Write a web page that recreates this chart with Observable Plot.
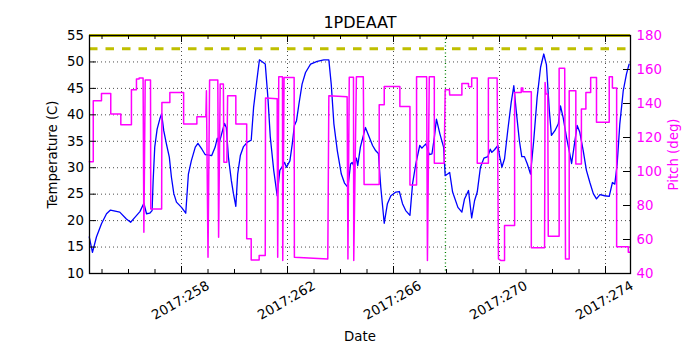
<!DOCTYPE html>
<html>
<head>
<meta charset="utf-8">
<script src="https://cdn.jsdelivr.net/npm/d3@7"></script>
<script src="https://cdn.jsdelivr.net/npm/@observablehq/plot@0.6"></script>
<style>
  html, body { margin: 0; padding: 0; background: white; }
</style>
</head>
<body>
<div id="chart"></div>
<script>
// ---- Data (day of year 2017) ----
const title = "1PDEAAT";
const tempDays = [254.52,254.64,254.79,254.98,255.17,255.32,255.67,255.92,256.08,256.24,256.43,256.58,256.68,256.80,256.89,256.93,256.99,257.08,257.18,257.25,257.33,257.43,257.54,257.62,257.71,257.81,258.00,258.16,258.26,258.37,258.52,258.62,258.77,258.89,259.14,259.27,259.35,259.42,259.62,259.69,259.77,259.88,259.96,260.05,260.12,260.22,260.34,260.50,260.63,260.72,260.84,260.94,261.16,261.26,261.35,261.48,261.61,261.71,261.80,261.89,261.96,262.09,262.18,262.26,262.34,262.43,262.55,262.68,262.87,263.12,263.37,263.56,263.65,263.75,263.88,264.03,264.15,264.28,264.38,264.44,264.50,264.60,264.65,264.75,264.94,265.06,265.21,265.33,265.43,265.52,265.65,265.77,265.90,266.09,266.22,266.34,266.46,266.62,266.72,266.84,266.99,267.07,267.22,267.35,267.45,267.54,267.62,267.75,267.89,267.95,268.04,268.12,268.23,268.43,268.58,268.68,268.83,268.95,269.06,269.16,269.28,269.41,269.56,269.65,269.71,269.81,269.94,270.00,270.09,270.19,270.31,270.44,270.54,270.63,270.75,270.84,270.94,271.05,271.17,271.29,271.42,271.55,271.67,271.77,271.88,271.96,272.09,272.22,272.30,272.40,272.53,272.63,272.72,272.80,272.93,273.03,273.16,273.28,273.41,273.54,273.66,273.79,273.97,274.14,274.26,274.35,274.44,274.54,274.67,274.79,274.89];
const tempValues = [16.9,14.0,16.9,19.4,21.3,22.0,21.6,20.3,19.7,20.6,21.7,23.3,21.3,21.4,21.9,27.6,33.9,37.3,39.2,40.2,37.0,34.5,32.0,28.2,25.1,23.5,22.5,21.4,28.8,31.3,33.9,34.6,33.5,32.5,32.3,33.9,35.6,34.6,38.4,37.6,32.0,27.6,25.1,22.7,28.8,32.3,34.0,34.9,35.2,41.4,46.4,50.4,49.6,43.3,35.8,29.5,24.7,29.5,30.2,31.0,30.1,31.3,34.5,38.0,38.9,42.0,45.8,48.0,49.6,50.1,50.4,50.4,45.8,38.3,33.2,28.8,27.1,26.3,30.7,31.0,30.4,31.8,30.4,33.9,37.6,36.1,34.2,33.2,32.7,26.3,19.5,23.2,24.7,25.4,25.5,23.2,21.9,21.0,27.0,30.7,34.2,33.7,34.5,32.5,32.6,35.7,39.2,36.4,33.9,28.5,28.8,29.1,25.4,22.5,21.6,24.1,25.7,20.5,23.8,25.4,30.1,31.8,32.1,33.5,32.9,33.4,34.2,32.3,30.1,31.7,37.0,42.3,45.5,40.8,35.1,32.1,32.1,30.7,28.8,35.1,43.3,49.0,51.5,49.5,40.8,36.1,37.0,38.3,41.7,39.5,35.7,33.2,30.8,33.5,38.0,36.7,33.2,29.5,27.2,25.1,24.1,24.9,24.7,24.6,27.2,26.9,30.7,38.3,44.6,47.7,49.6];

const pitchDays = [254.52,254.67,254.67,254.98,254.98,255.33,255.33,255.71,255.71,256.11,256.11,256.30,256.30,256.40,256.40,256.55,256.58,256.63,256.83,256.84,257.25,257.26,257.56,257.56,258.08,258.08,258.58,258.58,258.92,258.94,259.00,259.06,259.37,259.40,259.46,259.58,259.60,259.71,259.74,260.05,260.05,260.46,260.46,260.63,260.63,260.93,260.93,261.16,261.17,261.61,261.63,261.67,261.81,261.82,261.87,262.25,262.26,263.52,263.56,264.25,264.28,264.33,264.49,264.50,264.60,264.86,264.89,265.46,265.46,265.65,265.65,266.24,266.24,266.62,266.62,266.87,266.87,267.25,267.28,267.35,267.54,267.54,267.91,267.95,268.11,268.12,268.58,268.58,268.83,268.83,268.95,268.95,269.16,269.16,269.58,269.58,269.91,269.96,270.06,270.19,270.19,270.57,270.57,270.82,270.82,270.88,270.88,271.20,271.20,271.70,271.72,271.75,271.82,271.84,272.25,272.25,272.46,272.49,272.63,272.63,272.88,272.88,273.09,273.09,273.26,273.26,273.44,273.44,273.66,273.66,274.14,274.14,274.26,274.26,274.42,274.42,274.86,274.86,274.92];
const pitchValues = [105.8,105.8,141.6,141.6,145.9,145.9,133.8,133.8,127.5,127.5,148.1,148.1,154.4,154.4,155.0,155.0,64.3,153.8,153.8,78.0,78.0,140.6,140.6,146.5,146.5,128.0,128.0,132.2,132.2,147.5,49.6,153.8,153.8,61.3,151.4,151.4,105.4,105.4,144.6,144.6,128.0,128.0,60.4,60.4,48.0,48.0,50.6,50.6,143.2,142.8,49.6,155.7,155.7,47.6,155.3,155.3,49.6,48.6,144.6,144.0,48.6,155.5,155.5,47.6,155.7,155.7,92.3,92.3,139.3,139.3,150.0,150.0,138.3,138.3,92.1,92.1,155.7,155.7,47.6,155.7,155.7,104.8,104.8,148.1,148.1,145.0,145.0,151.8,151.8,149.9,149.9,155.0,155.0,104.8,104.8,155.0,155.0,48.6,47.6,47.6,68.2,68.2,146.5,146.5,149.1,149.1,146.9,146.9,55.1,55.1,152.4,145.6,145.6,61.9,61.9,160.8,160.8,48.6,48.6,147.5,147.5,104.4,104.4,136.8,136.8,146.5,146.5,155.3,155.3,128.9,128.9,155.7,155.7,149.1,149.1,55.8,55.8,52.5,52.5];

const xMajorTicks = [258, 262, 266, 270, 274];
const xMinorTicks = [255,256,257,259,260,261,263,264,265,267,268,269,271,272,273];
const tempTicks = [10,15,20,25,30,35,40,45,50,55];
const pitchTicks = [40,60,80,100,120,140,160,180];
const yellowLimit = 52.5;
const planningLimit = 55;
const markerDay = 267.96;

// ---- scales ----
const xDomain = [254.528, 274.943];
const tDomain = [10, 55];
const pDomain = [40, 180];
const p2t = p => tDomain[0] + (p - pDomain[0]) * (tDomain[1] - tDomain[0]) / (pDomain[1] - pDomain[0]);

const temps = tempDays.map((d, i) => ({day: d, v: tempValues[i]}));
const pitch = pitchDays.map((d, i) => ({day: d, v: p2t(pitchValues[i])}));

const W = 700, H = 350, mL = 89, mR = 70, mT = 35, mB = 77;
const fw = W - mL - mR, fh = H - mT - mB;
const font = "DejaVu Sans, Bitstream Vera Sans, sans-serif";

const chart = Plot.plot({
  width: W, height: H,
  marginLeft: mL, marginRight: mR, marginTop: mT, marginBottom: mB,
  style: {fontFamily: font, fontSize: "13.3px", background: "white", color: "black"},
  x: {domain: xDomain, axis: null},
  y: {domain: tDomain, axis: null},
  marks: [
    // grid
    Plot.ruleY(tempTicks.slice(1, -1), {y: d => d, stroke: "black", strokeWidth: 0.7, strokeDasharray: "1,3"}),
    Plot.ruleX(xMajorTicks, {x: d => d, stroke: "black", strokeWidth: 0.7, strokeDasharray: "1,3"}),
    // limits
    Plot.ruleY([planningLimit], {y: d => d, stroke: "#bfbf00", strokeWidth: 3}),
    Plot.ruleY([yellowLimit], {y: d => d, stroke: "#bfbf00", strokeWidth: 3, strokeDasharray: "8.5,8"}),
    Plot.ruleX([markerDay], {x: d => d, stroke: "#008000", strokeWidth: 1.3, strokeDasharray: "1,2.5"}),
    // data
    Plot.line(temps, {x: "day", y: "v", stroke: "#0000ff", strokeWidth: 1.3}),
    Plot.line(pitch, {x: "day", y: "v", stroke: "#ff00ff", strokeWidth: 1.5, curve: "linear"}),
    Plot.frame({stroke: "black", strokeWidth: 1.3}),
    // inward ticks (bottom & top)
    Plot.ruleX(xMajorTicks, {x: d => d, insetTop: fh - 7, stroke: "black"}),
    Plot.ruleX(xMajorTicks, {x: d => d, insetBottom: fh - 7, stroke: "black"}),
    Plot.ruleX(xMinorTicks, {x: d => d, insetTop: fh - 4, stroke: "black"}),
    Plot.ruleX(xMinorTicks, {x: d => d, insetBottom: fh - 4, stroke: "black"}),
    // inward ticks (left temperature, right pitch)
    Plot.ruleY(tempTicks, {y: d => d, insetRight: fw - 7, stroke: "black"}),
    Plot.ruleY(pitchTicks, {y: d => p2t(d), insetLeft: fw - 7, stroke: "black"}),
    // tick labels
    Plot.text(tempTicks, {y: d => d, frameAnchor: "left", dx: -5.5, textAnchor: "end", text: d => String(d), fontSize: 13.3, fill: "black"}),
    Plot.text(pitchTicks, {y: d => p2t(d), frameAnchor: "right", dx: 6, textAnchor: "start", text: d => String(d), fontSize: 13.3, fill: "#ff00ff"}),
    Plot.text(xMajorTicks, {x: d => d, frameAnchor: "bottom", dx: -1, dy: 27, rotate: -30, textAnchor: "middle", lineAnchor: "middle", text: d => "2017:" + d, fontSize: 13.3, fill: "black"}),
    // titles
    Plot.text([title], {frameAnchor: "top", dy: -13, textAnchor: "middle", lineAnchor: "middle", text: d => d, fontSize: 16, fill: "black"}),
    Plot.text(["Temperature (C)"], {frameAnchor: "left", dx: -37, rotate: -90, textAnchor: "middle", lineAnchor: "middle", text: d => d, fontSize: 13.3, fill: "black"}),
    Plot.text(["Pitch (deg)"], {frameAnchor: "right", dx: 43, rotate: -90, textAnchor: "middle", lineAnchor: "middle", text: d => d, fontSize: 13.3, fill: "#ff00ff"}),
    Plot.text(["Date"], {frameAnchor: "bottom", dy: 63, textAnchor: "middle", lineAnchor: "middle", text: d => d, fontSize: 13.3, fill: "black"})
  ]
});
document.getElementById("chart").appendChild(chart);
</script>
</body>
</html>
